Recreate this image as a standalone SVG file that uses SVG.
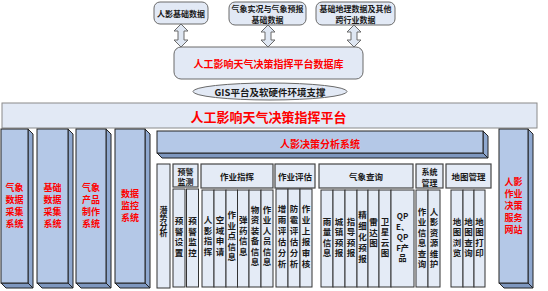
<svg xmlns="http://www.w3.org/2000/svg" width="548" height="291" viewBox="0 0 548 291">
<defs>
<style>
.f{font-family:"Noto Sans CJK SC","Noto Sans",sans-serif;font-weight:bold;text-anchor:middle;dominant-baseline:central}
.v{writing-mode:vertical-rl;text-orientation:upright;font-size:8.5px;letter-spacing:2px}
.k{fill:#1a1a1a}
.r{fill:#ff0000}
.lt{fill:#e2e9f5;stroke:#6a6a6a;stroke-width:1}
.bx{fill:#e4ebf6;stroke:#333;stroke-width:1}
.hd{fill:#e4ebf6;stroke:#444;stroke-width:1.2}
.fr{fill:#b4c8e7;stroke:#222;stroke-width:1}
.sd{fill:#8fa8cf;stroke:#222;stroke-width:1}
.bt{fill:#7e97bf;stroke:#222;stroke-width:1}
.ar{fill:#dfe7f3;stroke:#6a6a6a;stroke-width:1}
</style>
</defs>
<rect width="548" height="291" fill="#ffffff"/>

<g id="connectors">
<polygon class="ar" points="181,24 188,31 184,31 184,40 188,40 181,47 174,40 178,40 178,31 174,31"/>
<polygon class="ar" points="268,25 275,32 271,32 271,40 275,40 268,47 261,40 265,40 265,32 261,32"/>
<polygon class="ar" points="354,25 361,32 357,32 357,40 361,40 354,47 347,40 351,40 351,32 347,32"/>
</g>

<g id="src1">
<rect class="lt" x="154" y="2" width="54" height="22" rx="6"/>
<text class="f k" x="181" y="13" font-size="8">人影基础数据</text>
</g>
<g id="src2">
<rect class="lt" x="229" y="2" width="77" height="23" rx="6"/>
<text class="f k" x="267.5" y="8.5" font-size="8">气象实况与气象预报</text>
<text class="f k" x="267.5" y="19" font-size="8">基础数据</text>
</g>
<g id="src3">
<rect class="lt" x="316" y="2" width="79" height="23" rx="6"/>
<text class="f k" x="355.5" y="8.5" font-size="8">基础地理数据及其他</text>
<text class="f k" x="355.5" y="19" font-size="8">跨行业数据</text>
</g>

<g id="database">
<rect class="lt" x="174" y="47" width="189" height="32" rx="7"/>
<text class="f r" x="268.5" y="63" font-size="10">人工影响天气决策指挥平台数据库</text>
</g>

<g id="gis">
<ellipse class="lt" cx="270" cy="91.5" rx="77" ry="8.5"/>
<text class="f k" x="270" y="92" font-size="9.5">GIS平台及软硬件环境支撑</text>
</g>

<g id="platform">
<rect x="2" y="103" width="535" height="25" fill="#e2e9f5" stroke="#8a8a8a" stroke-width="1"/>
<text class="f r" x="268.5" y="116" font-size="13">人工影响天气决策指挥平台</text>
</g>

<g id="sys1">
<polygon class="sd" points="28,129 33,134 33,288 28,283"/>
<polygon class="bt" points="1,283 28,283 33,288 6,288"/>
<rect class="fr" x="1" y="129" width="27" height="154"/>
<text class="f r" font-size="9"><tspan x="14.5" y="187">气象</tspan><tspan x="14.5" y="199">数据</tspan><tspan x="14.5" y="211">采集</tspan><tspan x="14.5" y="223">系统</tspan></text>
</g>
<g id="sys2">
<polygon class="sd" points="68,129 73,134 73,288 68,283"/>
<polygon class="bt" points="37,283 68,283 73,288 42,288"/>
<rect class="fr" x="37" y="129" width="31" height="154"/>
<text class="f r" font-size="9"><tspan x="52.5" y="187">基础</tspan><tspan x="52.5" y="199">数据</tspan><tspan x="52.5" y="211">采集</tspan><tspan x="52.5" y="223">系统</tspan></text>
</g>
<g id="sys3">
<polygon class="sd" points="106,129 111,134 111,288 106,283"/>
<polygon class="bt" points="76,283 106,283 111,288 81,288"/>
<rect class="fr" x="76" y="129" width="30" height="154"/>
<text class="f r" font-size="9"><tspan x="91" y="187">气象</tspan><tspan x="91" y="199">产品</tspan><tspan x="91" y="211">制作</tspan><tspan x="91" y="223">系统</tspan></text>
</g>
<g id="sys4">
<polygon class="sd" points="145,129 150,134 150,288 145,283"/>
<polygon class="bt" points="115,283 145,283 150,288 120,288"/>
<rect class="fr" x="115" y="129" width="30" height="154"/>
<text class="f r" font-size="9"><tspan x="130" y="193">数据</tspan><tspan x="130" y="205">监控</tspan><tspan x="130" y="217">系统</tspan></text>
</g>

<g id="website">
<polygon class="sd" points="528,129 533,134 533,288 528,283"/>
<polygon class="bt" points="499,283 528,283 533,288 504,288"/>
<rect class="fr" x="499" y="129" width="29" height="154"/>
<text class="f r" font-size="9"><tspan x="513.5" y="181">人影</tspan><tspan x="513.5" y="193">作业</tspan><tspan x="513.5" y="205">决策</tspan><tspan x="513.5" y="217">服务</tspan><tspan x="513.5" y="229">网站</tspan></text>
</g>

<g id="analysis">
<polygon class="sd" points="483,131 488,136 488,158 483,153"/>
<polygon class="bt" points="157,153 483,153 488,158 162,158"/>
<rect class="fr" x="157" y="131" width="326" height="22"/>
<text class="f r" x="320" y="143" font-size="10">人影决策分析系统</text>
</g>

<g id="potential">
<rect class="bx" x="157" y="164" width="13" height="124"/>
<text class="f k v" x="163.5" y="221.5" style="font-size:8px;letter-spacing:-0.3px">潜势分析</text>
</g>

<g id="warning">
<rect class="hd" x="173" y="164" width="25" height="23"/>
<text class="f k" font-size="8"><tspan x="185.5" y="170.5">预警</tspan><tspan x="185.5" y="181">监测</tspan></text>
<rect class="bx" x="173" y="189" width="12" height="98"/>
<rect class="bx" x="186.5" y="189" width="12" height="98"/>
<text class="f k v" x="179" y="238">预警设置</text>
<text class="f k v" x="192.5" y="238">预警监控</text>
</g>

<g id="command">
<rect class="hd" x="201" y="164" width="72" height="24"/>
<text class="f k" x="237" y="176" font-size="8.5">作业指挥</text>
<rect class="bx" x="202" y="190" width="12" height="97"/>
<rect class="bx" x="214" y="190" width="12" height="97"/>
<rect class="bx" x="226" y="190" width="11.5" height="97"/>
<rect class="bx" x="237.5" y="190" width="11.5" height="97"/>
<rect class="bx" x="249" y="190" width="12" height="97"/>
<rect class="bx" x="261" y="190" width="12" height="97"/>
<text class="f k v" x="208" y="237">人影指挥</text>
<text class="f k v" x="220" y="237">空域申请</text>
<text class="f k v" x="231.75" y="237">作业点信息</text>
<text class="f k v" x="243.25" y="237">弹药信息</text>
<text class="f k v" x="255" y="237">物资装备信息</text>
<text class="f k v" x="267" y="237">作业人员信息</text>
</g>

<g id="evaluation">
<rect class="hd" x="275" y="164" width="40" height="24"/>
<text class="f k" x="295" y="176" font-size="8.5">作业评估</text>
<rect class="bx" x="276" y="189" width="12" height="98"/>
<rect class="bx" x="288" y="189" width="12" height="98"/>
<rect class="bx" x="300" y="189" width="12" height="98"/>
<text class="f k v" x="282" y="237.5" style="letter-spacing:2.5px">增雨评估分析</text>
<text class="f k v" x="294" y="237.5" style="letter-spacing:2.5px">防雹评估分析</text>
<text class="f k v" x="306" y="237.5" style="letter-spacing:2.5px">作业上报审核</text>
</g>

<g id="weather">
<rect class="hd" x="319" y="164" width="94" height="24"/>
<text class="f k" x="366" y="176" font-size="8.5">气象查询</text>
<rect class="bx" x="321" y="190" width="12" height="97"/>
<rect class="bx" x="333" y="190" width="12" height="97"/>
<rect class="bx" x="345" y="190" width="12" height="97"/>
<rect class="bx" x="357" y="190" width="11" height="97"/>
<rect class="bx" x="368" y="190" width="11" height="97"/>
<rect class="bx" x="379" y="190" width="12" height="97"/>
<rect class="bx" x="391" y="190" width="23" height="97"/>
<text class="f k v" x="327" y="238.5">雨量信息</text>
<text class="f k v" x="339" y="238.5">城镇预报</text>
<text class="f k v" x="351" y="238.5">指导预报</text>
<text class="f k v" x="362.5" y="238" style="letter-spacing:2.5px">精细化预报</text>
<text class="f k v" x="373.5" y="233.5">雷达图</text>
<text class="f k v" x="385" y="238.5">卫星云图</text>
<text class="f k" font-size="8"><tspan x="402.5" y="215">QP</tspan><tspan x="402.5" y="225.5">E、</tspan><tspan x="402.5" y="236">QP</tspan><tspan x="402.5" y="246.5">F产</tspan><tspan x="402.5" y="257">品</tspan></text>
</g>

<g id="system">
<rect class="hd" x="416" y="164" width="27" height="24"/>
<text class="f k" font-size="8"><tspan x="429.5" y="170.5">系统</tspan><tspan x="429.5" y="181.5">管理</tspan></text>
<rect class="bx" x="416" y="190" width="12" height="97"/>
<rect class="bx" x="428" y="190" width="12" height="97"/>
<text class="f k v" x="422" y="239">作业信息查询</text>
<text class="f k v" x="434" y="239">人影资源维护</text>
</g>

<g id="map">
<rect class="hd" x="446" y="164" width="45" height="24"/>
<text class="f k" x="468.5" y="176" font-size="8.5">地图管理</text>
<rect class="bx" x="451" y="190" width="12" height="97"/>
<rect class="bx" x="463" y="190" width="11" height="97"/>
<rect class="bx" x="474" y="190" width="11" height="97"/>
<text class="f k v" x="457" y="238.5">地图浏览</text>
<text class="f k v" x="468.5" y="238.5">地图查询</text>
<text class="f k v" x="479.5" y="238.5">地图打印</text>
</g>
</svg>
